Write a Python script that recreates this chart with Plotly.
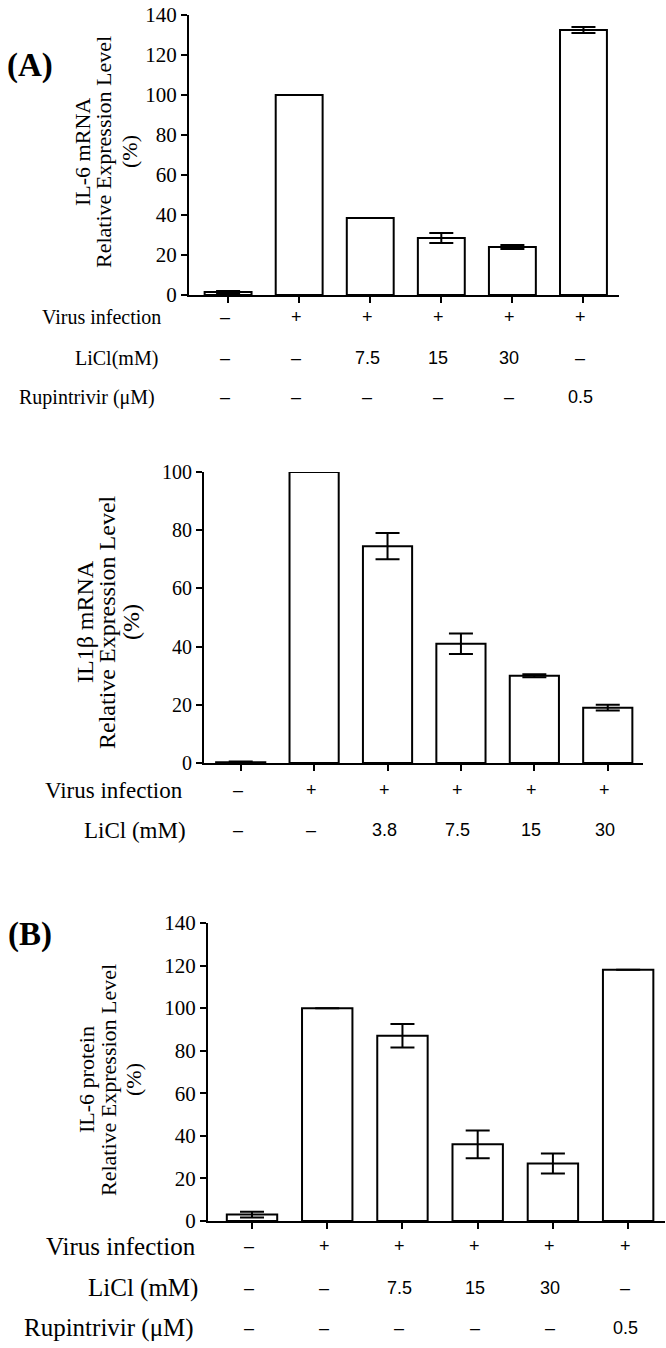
import plotly.graph_objects as go

W, H = 666, 1348

# ---------------- data ----------------
groups = [0, 1, 2, 3, 4, 5]

il6_mrna = [1.5, 100, 38.5, 28.5, 24, 132.5]
il6_mrna_err = [0.5, 0, 0, 2.5, 1, 1.5]
p1_virus = ["–", "+", "+", "+", "+", "+"]
p1_licl = ["–", "–", "7.5", "15", "30", "–"]
p1_rupi = ["–", "–", "–", "–", "–", "0.5"]

il1b_mrna = [0.3, 100, 74.5, 41, 30, 19]
il1b_mrna_err = [0.2, 0, 4.5, 3.5, 0.5, 1]
p2_virus = ["–", "+", "+", "+", "+", "+"]
p2_licl = ["–", "–", "3.8", "7.5", "15", "30"]

il6_prot = [3, 100, 87, 36, 27, 118]
il6_prot_err = [1.3, 0, 5.5, 6.5, 4.7, 0]
p3_virus = ["–", "+", "+", "+", "+", "+"]
p3_licl = ["–", "–", "7.5", "15", "30", "–"]
p3_rupi = ["–", "–", "–", "–", "–", "0.5"]

ticks140 = [0, 20, 40, 60, 80, 100, 120, 140]
ticks100 = [0, 20, 40, 60, 80, 100]

SERIF = "Liberation Serif, Times New Roman, serif"
SANS = "Liberation Sans, Arial, sans-serif"


def fx(px):
    return px / W


def fy(py):
    return 1 - py / H


fig = go.Figure()

panels = [
    dict(y=il6_mrna, e=il6_mrna_err, xa="x", ya="y", w=0.66),
    dict(y=il1b_mrna, e=il1b_mrna_err, xa="x2", ya="y2", w=0.67),
    dict(y=il6_prot, e=il6_prot_err, xa="x3", ya="y3", w=0.67),
]
for p in panels:
    fig.add_trace(go.Bar(
        x=groups, y=p["y"], xaxis=p["xa"], yaxis=p["ya"], width=p["w"],
        marker=dict(color="white", line=dict(color="black", width=2)),
        error_y=dict(type="data", array=p["e"], visible=True, color="black",
                     thickness=2, width=12),
        showlegend=False, hoverinfo="skip",
    ))

axis_common = dict(showline=True, linecolor="black", linewidth=2, ticks="outside",
                   ticklen=6, tickwidth=2, tickcolor="black", showgrid=False,
                   zeroline=False, fixedrange=True, automargin=False)

xcommon = dict(axis_common, tickmode="array", tickvals=groups, showticklabels=False)

fig.update_layout(
    width=W, height=H, margin=dict(l=0, r=0, t=0, b=0, pad=0, autoexpand=False),
    paper_bgcolor="white", plot_bgcolor="white", bargap=0,
    xaxis=dict(xcommon, domain=[fx(189), fx(619)], range=[-0.55, 5.5], anchor="y"),
    yaxis=dict(axis_common, domain=[fy(295), fy(15)], range=[0, 140], anchor="x",
               tickvals=ticks140, tickfont=dict(family=SERIF, size=21, color="black")),
    xaxis2=dict(xcommon, domain=[fx(204), fx(643)], range=[-0.5, 5.48], anchor="y2"),
    yaxis2=dict(axis_common, domain=[fy(763), fy(472)], range=[0, 100], anchor="x2",
                tickvals=ticks100, tickfont=dict(family=SERIF, size=20, color="black")),
    xaxis3=dict(xcommon, domain=[fx(208), fx(665)], range=[-0.585, 5.49], anchor="y3"),
    yaxis3=dict(axis_common, domain=[fy(1221), fy(923)], range=[0, 140], anchor="x3",
                tickvals=ticks140, tickfont=dict(family=SERIF, size=21, color="black")),
)

ann = []


def add_text(text, x, y, xref="paper", font=SERIF, size=19, xanchor="center",
             angle=0, bold=False, xshift=0):
    ann.append(dict(text=("<b>%s</b>" % text) if bold else text, x=x, y=y,
                    xref=xref, yref="paper", showarrow=False, xanchor=xanchor,
                    yanchor="middle", textangle=angle, xshift=xshift,
                    font=dict(family=font, size=size, color="black")))


# panel labels
add_text("(A)", fx(30), fy(66), size=33, bold=True)
add_text("(B)", fx(30), fy(934), size=33, bold=True)

# y titles: one annotation per line
titles = [
    (["IL-6 mRNA", "Relative Expression Level", "(%)"], [82, 103, 129], 152, 22),
    (["IL1β mRNA", "Relative Expression Level", "(%)"], [85, 107, 131], 622, 24),
    (["IL-6 protein", "Relative Expression Level", "(%)"], [86, 108, 133], 1080, 22),
]
for lines, xs, yc, sz in titles:
    for t, xp in zip(lines, xs):
        add_text(t, fx(xp), fy(yc), size=sz, angle=-90)

# row labels + values
rows = [
    ("Virus infection", p1_virus, 317, 163, "x", 20),
    ("LiCl(mM)", p1_licl, 358, 160, "x", 20),
    ("Rupintrivir (μM)", p1_rupi, 397, 157, "x", 20),
    ("Virus infection", p2_virus, 790, 185, "x2", 23),
    ("LiCl (mM)", p2_licl, 830, 188, "x2", 23),
    ("Virus infection", p3_virus, 1246, 198, "x3", 25),
    ("LiCl (mM)", p3_licl, 1288, 200, "x3", 25),
    ("Rupintrivir (μM)", p3_rupi, 1328, 196, "x3", 25),
]
for label, vals, ypx, xr, xref, sz in rows:
    add_text(label, fx(xr), fy(ypx), size=sz, xanchor="right")
    for g, v in zip(groups, vals):
        add_text(v, g, fy(ypx), xref=xref, font=SANS, size=18, xshift=-3)

fig.update_layout(annotations=ann)
fig.write_html(
    "out.html",
    config={"displayModeBar": False, "staticPlot": True},
    post_script="document.body.style.margin='0';document.body.style.padding='0';",
)
